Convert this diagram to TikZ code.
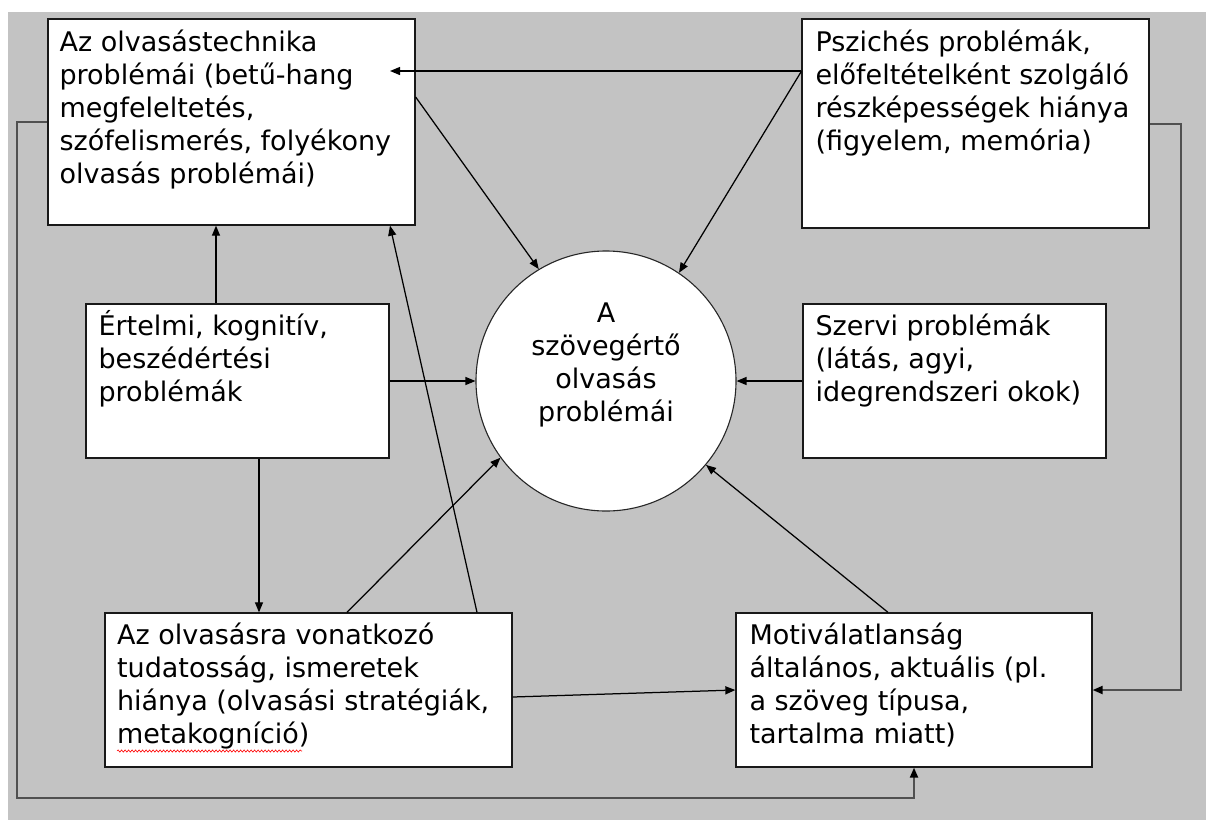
\documentclass[tikz,border=0pt]{standalone}
\usepackage{fontspec}
\setmainfont{DejaVu Sans}
\usetikzlibrary{arrows.meta,decorations.pathmorphing}
\definecolor{bggray}{RGB}{195,195,195}
\definecolor{loopgray}{RGB}{80,80,80}
\begin{document}
\begin{tikzpicture}[x=1pt,y=-1pt,
  box/.style={draw=black!90, fill=white, line width=1.3pt, inner sep=0pt, rectangle},
  txt/.style={font=\fontsize{27}{33}\selectfont, align=left, inner sep=0pt, anchor=north west},
  ctxt/.style={font=\fontsize{27}{33}\selectfont, align=center, inner sep=0pt, anchor=north},
  arr/.style={draw=black, line width=1.25pt, -{Triangle[length=10pt,width=8pt]}},
  looparr/.style={draw=loopgray, line width=2pt, -{Triangle[length=10pt,width=8pt,fill=black,color=black]}}
]
\useasboundingbox (0,0) rectangle (1206,820);
\fill[white] (0,0) rectangle (1206,820);
\fill[bggray] (8,12) rectangle (1206,820);

% boxes
\node[box, minimum width=367pt, minimum height=206pt] (A) at (231.5,122) {};
\node[box, minimum width=347pt, minimum height=209pt] (P) at (975.5,123.5) {};
\node[box, minimum width=303pt, minimum height=154pt] (E) at (237.5,381) {};
\node[box, minimum width=303pt, minimum height=154pt] (S) at (954.5,381) {};
\node[box, minimum width=407pt, minimum height=154pt] (O) at (308.5,690) {};
\node[box, minimum width=356pt, minimum height=154pt] (M) at (914,690) {};
\node[draw=black!85, fill=white, line width=1.1pt, circle, minimum size=260pt, inner sep=0pt] (C) at (606,381) {};

% texts
\node[txt] (At) at ([xshift=12pt,yshift=-7pt]A.north west) {\rule{0pt}{26pt}Az olvasástechnika\\problémái (betű-hang\\megfeleltetés,\\szófelismerés, folyékony\\olvasás problémái)};
\node[txt] (Pt) at ([xshift=14pt,yshift=-7pt]P.north west) {\rule{0pt}{26pt}Pszichés problémák,\\előfeltételként szolgáló\\részképességek hiánya\\(figyelem, memória)};
\node[txt] (Et) at ([xshift=13pt,yshift=-5.5pt]E.north west) {\rule{0pt}{26pt}Értelmi, kognitív,\\beszédértési\\problémák};
\node[txt] (St) at ([xshift=13pt,yshift=-5.5pt]S.north west) {\rule{0pt}{26pt}Szervi problémák\\(látás, agyi,\\idegrendszeri okok)};
\node[txt] (Ot) at ([xshift=12.5pt,yshift=-6pt]O.north west) {\rule{0pt}{26pt}Az olvasásra vonatkozó\\tudatosság, ismeretek\\hiánya (olvasási stratégiák,\\metakogníció)};
\node[txt] (Mt) at ([xshift=14pt,yshift=-6pt]M.north west) {\rule{0pt}{26pt}Motiválatlanság\\általános, aktuális (pl.\\a szöveg típusa,\\tartalma miatt)};
\node[ctxt] (Ct) at ([yshift=85pt]C.center) {\rule{0pt}{26pt}A\\szövegértő\\olvasás\\problémái};

% spelling underline
\draw[red, line width=0.6pt, decorate, decoration={snake, amplitude=1.1pt, segment length=3.5pt}] (117,751) -- (302,751);

% connectors
\coordinate (pa) at (390,71);
\draw[arr] (P.west |- pa) -- (pa);
\draw[arr] ([yshift=25pt]A.east) -- (C.121.7);
\draw[arr] ([yshift=-53pt]P.north west) -- (C.56.4);
\draw[arr] ([xshift=-21.5pt]E.north) -- ([xshift=-21.5pt]E.north |- A.south);
\draw[arr] (E.east) -- (C.west);
\draw[arr] ([xshift=21.5pt]E.south) -- ([xshift=21.5pt]E.south |- O.north);
\draw[arr] ([xshift=168.5pt]O.north) -- ([xshift=158.5pt]A.south);
\draw[arr] ([xshift=38.5pt]O.north) -- (C.216.2);
\draw[arr] ([yshift=-7pt]O.east) -- (M.west);
\draw[arr] ([xshift=-26pt]M.north) -- (C.-40);
\draw[arr] (S.west) -- (C.east);

% loops
\draw[looparr] (P.east) -- ++(31,0) |- (M.east);
\coordinate (bl) at (17,798);
\draw[looparr] (A.west) -| (bl) -| (M.south);
\end{tikzpicture}
\end{document}
